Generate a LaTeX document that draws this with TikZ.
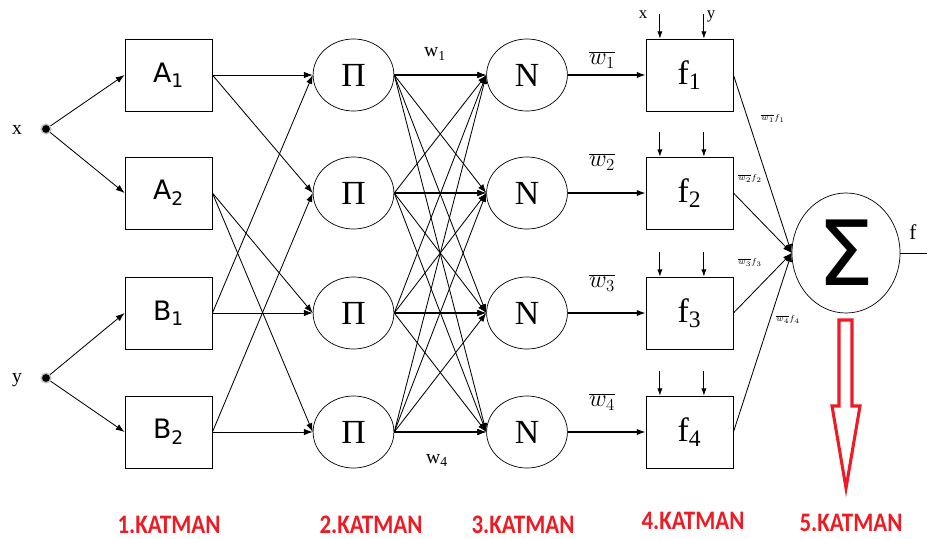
\documentclass[tikz,border=0pt]{standalone}
\usepackage{fontspec}
\setmainfont{Liberation Serif}
\newfontfamily\boxsans{DejaVu Sans}
\newfontfamily\layerfont{Carlito}
\usetikzlibrary{arrows.meta,shapes.geometric}
\definecolor{katred}{RGB}{237,28,36}

\begin{document}
\begin{tikzpicture}[x=0.025cm,y=-0.025cm,
  box/.style={draw,line width=0.6pt,minimum width=2.175cm,minimum height=1.8cm,inner sep=0pt},
  mf/.style={box,font=\boxsans\fontsize{19}{22}\selectfont},
  op/.style={draw,ellipse,line width=0.5pt,minimum width=2.02cm,minimum height=1.8cm,inner sep=0pt,font=\fontsize{24}{26}\selectfont},
  dot/.style={circle,fill=black,draw=black!25,line width=1pt,minimum size=0.24cm,inner sep=0pt},
  ar/.style={-{Latex[length=2.2mm,width=1.6mm]},line width=0.6pt},
  lay/.style={font=\layerfont\bfseries\fontsize{19}{21}\selectfont,text=katred,xscale=0.86},
  every node/.style={align=center}
]
\useasboundingbox (0,0) rectangle (927,539);

% inputs
\node[dot] (x) at (46,129) {};
\node[dot] (y) at (46,378) {};
\node[font=\fontsize{14}{16}\selectfont] (xl) at (17,130) {x};
\node[font=\fontsize{14}{16}\selectfont] (yl) at (17,380) {y};

% layer 1: membership boxes
\node[mf] (A1) at (168.5,75)  {A\textsubscript{1}};
\node[mf] (A2) at (168.5,193) {A\textsubscript{2}};
\node[mf] (B1) at (168.5,313) {B\textsubscript{1}};
\node[mf] (B2) at (168.5,432) {B\textsubscript{2}};

% layers 2, 3, 4
\foreach \i/\yy in {1/75,2/193,3/313,4/432}{
  \node[op] (P\i) at (353.5,\yy) {Π};
  \node[op] (N\i) at (527,\yy) {N};
  \node[box,font=\fontsize{24}{26}\selectfont] (F\i) at (689.5,\yy) {f\textsubscript{\i}};
}

% layer 5
\node[draw,ellipse,line width=0.5pt,minimum width=2.7cm,minimum height=3cm,inner sep=0pt,
  font=\boxsans\fontsize{64}{66}\selectfont] (S) at (846,253) {Σ};
\coordinate (out) at (927,253);

% connections
\draw[ar] (x) -- (A1.west);
\draw[ar] (x) -- (A2.west);
\draw[ar] (y) -- (B1.west);
\draw[ar] (y) -- (B2.west);

\foreach \a/\p in {A1/P1,A1/P2,A2/P3,A2/P4,B1/P1,B1/P3,B2/P2,B2/P4}
  \draw[ar] (\a.east) -- (\p.west);

\foreach \i in {1,...,4}{
  \foreach \j in {1,...,4}
    \draw[ar] (P\i.east) -- (N\j.west);
  \draw[ar,line width=1.1pt] (P\i.east) -- (N\i.west);
  \draw[ar,line width=1pt] (N\i.east) -- (F\i.west);
  \draw[ar] (F\i.east) -- (S.west);
  \draw[ar,-{Latex[length=1.8mm,width=1.3mm]}] ([xshift=-0.74cm,yshift=0.62cm]F\i.north) -- ([xshift=-0.74cm]F\i.north);
  \draw[ar,-{Latex[length=1.8mm,width=1.3mm]}] ([xshift=0.36cm,yshift=0.62cm]F\i.north) -- ([xshift=0.36cm]F\i.north);
}
\draw[line width=0.6pt] (S.east) -- (out);

% labels
\node[font=\fontsize{12}{14}\selectfont] (fx) at (643,15) {x};
\node[font=\fontsize{12}{14}\selectfont] (fy) at (711,16) {y};
\node[font=\fontsize{14}{16}\selectfont] (w1) at (435,54) {w\textsubscript{1}};
\node[font=\fontsize{14}{16}\selectfont] (w4) at (437,460) {w\textsubscript{4}};
\node[font=\fontsize{17}{19}\selectfont] (nw1) at (602,60)  {$\overline{w_1}$};
\node[font=\fontsize{17}{19}\selectfont] (nw2) at (602,162) {$\overline{w_2}$};
\node[font=\fontsize{17}{19}\selectfont] (nw3) at (602,283) {$\overline{w_3}$};
\node[font=\fontsize{17}{19}\selectfont] (nw4) at (602,402) {$\overline{w_4}$};
\node[font=\fontsize{6}{7}\selectfont] (s1) at (773,118) {$\overline{w_1}f_1$};
\node[font=\fontsize{6}{7}\selectfont] (s2) at (750,178) {$\overline{w_2}f_2$};
\node[font=\fontsize{6}{7}\selectfont] (s3) at (750,262) {$\overline{w_3}f_3$};
\node[font=\fontsize{6}{7}\selectfont] (s4) at (788,319) {$\overline{w_4}f_4$};
\node[font=\fontsize{15}{17}\selectfont] (fo) at (913,232) {f};

% red output arrow
\draw[katred,line width=2.2pt,line join=miter] (839,320) -- (839,406) -- (832,406) -- (846,488)
  -- (860,406) -- (852,406) -- (852,320) -- cycle;

% layer names
\node[lay] (L1) at (169,525) {1.KATMAN};
\node[lay] (L2) at (371,525) {2.KATMAN};
\node[lay] (L3) at (523,525) {3.KATMAN};
\node[lay] (L4) at (693,521) {4.KATMAN};
\node[lay] (L5) at (851,523) {5.KATMAN};
\end{tikzpicture}
\end{document}
